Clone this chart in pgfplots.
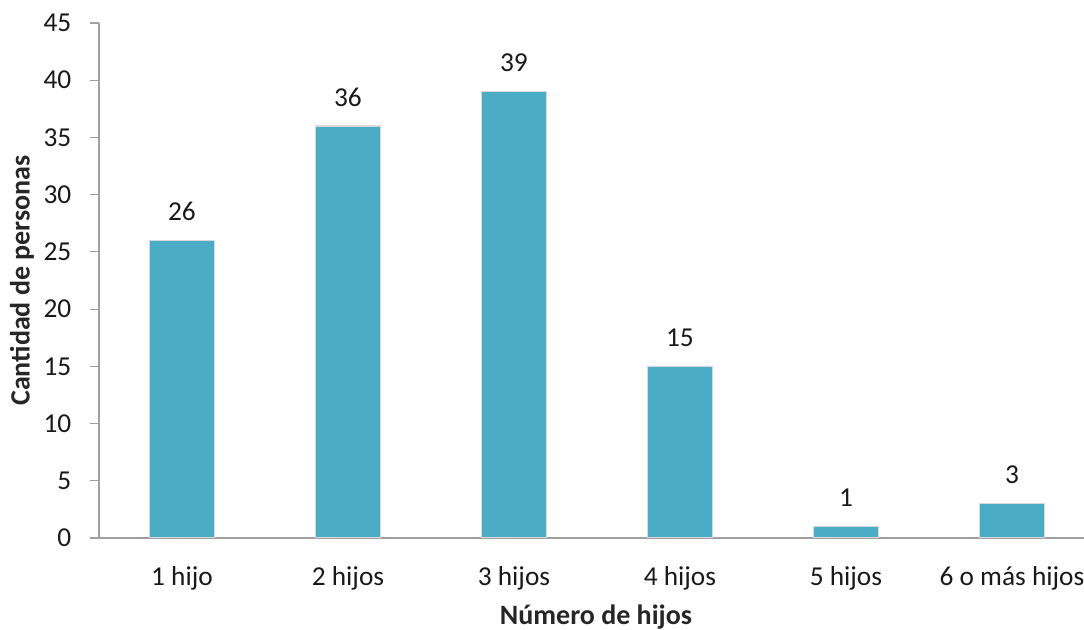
\documentclass[border=0pt]{standalone}
\usepackage{fontspec}
\setmainfont{Carlito}
\usepackage{pgfplots}
\pgfplotsset{compat=1.18}
\usetikzlibrary{calc}
\newlength\px
\setlength\px{0.75pt}
\definecolor{barc}{RGB}{75,172,198}
\definecolor{axc}{RGB}{160,160,160}
\begin{document}
\begin{tikzpicture}
\begin{axis}[
  name=ax,
  scale only axis,
  width=985\px, height=515\px,
  xmin=-0.5, xmax=5.434,
  ymin=0, ymax=45,
  axis x line=bottom, axis y line=left,
  axis line style={-, draw=axc, line width=1.2\px},
  ytick={0,5,...,45},
  xtick=data,
  xticklabels={1 hijo,2 hijos,3 hijos,4 hijos,5 hijos,6 o más hijos},
  xtick style={draw=none},
  ytick style={draw=axc, line width=1.2\px},
  tick align=outside,
  major tick length=9\px,
  /pgf/number format/assume math mode=true,
  tick label style={font=\fontsize{20.5}{24}\selectfont, text=black!90},
  xticklabel style={anchor=center, yshift=-31\px},
  yticklabel style={xshift=-14\px},
  ybar, bar width=65\px,
  nodes near coords,
  every node near coord/.append style={font=\fontsize{20.5}{24}\selectfont, text=black!90, anchor=center, yshift=29\px},
  xlabel={\bfseries Número de hijos},
  ylabel={\bfseries Cantidad de personas},
  every axis x label/.style={at={(axis description cs:0.5046,-0.153)}, anchor=center, font=\fontsize{21}{24}\selectfont, text=black!85},
  every axis y label/.style={at={(axis description cs:-0.0782,0.5)}, rotate=90, anchor=center, font=\fontsize{21}{24}\selectfont, text=black!85},
]
\addplot[fill=barc, draw=white!85!black, line width=1.2\px] coordinates {(0,26) (1,36) (2,39) (3,15) (4,1) (5,3)};
\end{axis}
\pgfresetboundingbox
\path ($(ax.south west)+(-99\px,-92\px)$) rectangle ($(ax.north east)+(0,23\px)$);
\end{tikzpicture}
\end{document}
